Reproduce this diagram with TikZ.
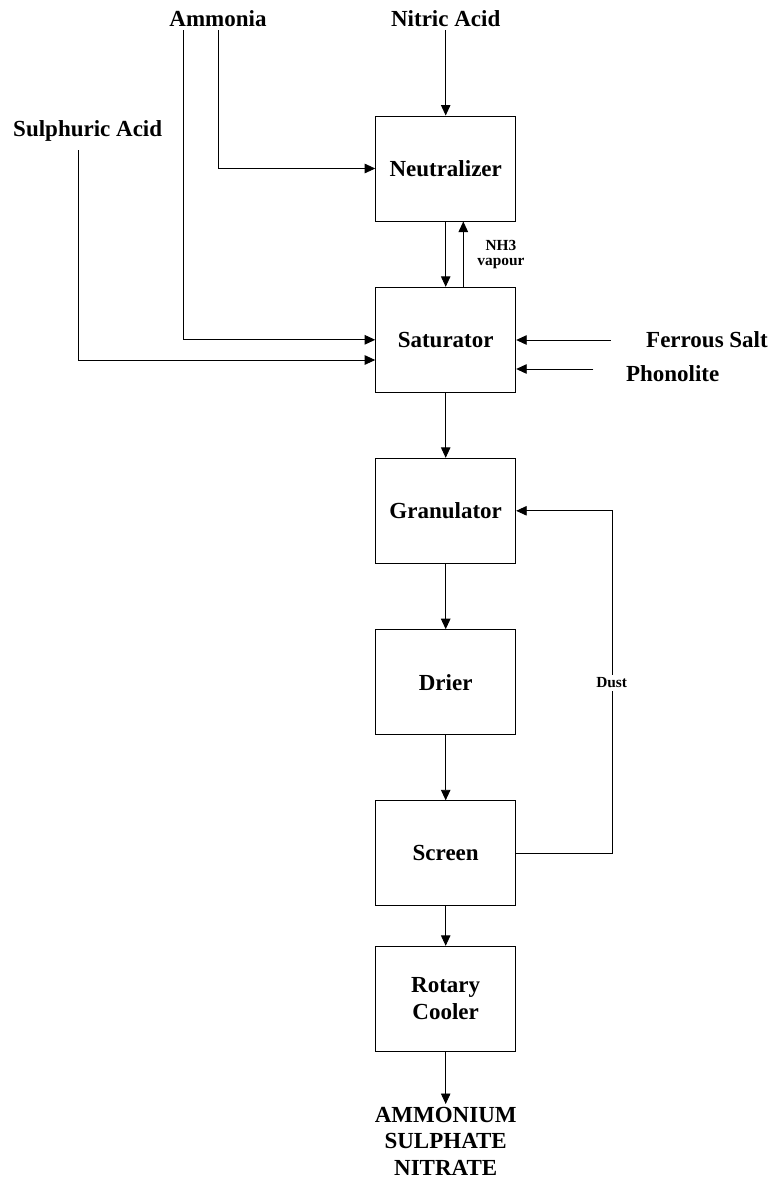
\documentclass[tikz,border=0pt]{standalone}
\usepackage{fontspec}
\setmainfont{Liberation Serif}
\usetikzlibrary{arrows.meta,calc}
\begin{document}
\begin{tikzpicture}[x=1pt,y=-1pt,
  unitbox/.style={draw, line width=1pt, minimum width=140pt, minimum height=105pt, inner sep=0pt,
    font=\fontsize{23}{26.5}\selectfont\bfseries, align=center},
  biglabel/.style={font=\fontsize{23}{26.5}\selectfont\bfseries, inner sep=3pt},
  smalllabel/.style={font=\fontsize{15.4}{15.5}\selectfont\bfseries, align=center, inner sep=1.5pt},
  arr/.style={line width=0.9pt, -{Triangle[length=10.5pt,width=9.5pt]}},
  ln/.style={line width=0.9pt}]
\useasboundingbox (0,0) rectangle (771,1184);

% process boxes
\node[unitbox] (neut)   at (445.7,168.5) {Neutralizer};
\node[unitbox] (sat)    at (445.7,339.8) {Saturator};
\node[unitbox] (gran)   at (445.7,510.8) {Granulator};
\node[unitbox] (drier)  at (445.7,682.2) {Drier};
\node[unitbox] (screen) at (445.7,853.3) {Screen};
\node[unitbox] (cooler) at (445.7,998.8) {Rotary\\Cooler};

% feed labels
\node[biglabel, anchor=base] (ammonia) at (218,26) {Ammonia};
\node[biglabel, anchor=base] (nitric)  at (445.7,26) {Nitric Acid};
\node[biglabel, anchor=base] (sulph)   at (87.7,136.7) {Sulphuric Acid};
\node[biglabel, anchor=base] (ferrous) at (707,347.7) {Ferrous Salt};
\node[biglabel, anchor=base] (phono)   at (672.7,381.7) {Phonolite};
\node[biglabel, anchor=north, align=center] (prod) at (445.7,1104) {AMMONIUM\\SULPHATE\\NITRATE};

% free line ends
\coordinate (am1) at (218.3,30);
\coordinate (am2) at (183,30);
\coordinate (su1) at (78.3,150);
\coordinate (fe1) at (610.7,340);
\coordinate (ph1) at (593.3,369);
\coordinate (ni1) at (445.7,30);

% feeds
\draw[arr] (ni1) -- (neut.north);
\draw[arr] (am1) |- (neut.west);
\draw[arr] (am2) |- (sat.west);
\draw[arr] (su1) |- ($(sat.west)+(0,20.2)$);
\draw[arr] (fe1) -- (fe1 -| sat.east);
\draw[arr] (ph1) -- (ph1 -| sat.east);

% main flow
\draw[arr] (neut.south) -- (sat.north);
\draw[arr] ($(sat.north)+(17.6,0)$) -- ($(neut.south)+(17.6,0)$);
\node[smalllabel] (nh3) at (501,254.5) {NH3\\vapour};
\draw[arr] (sat.south) -- (gran.north);
\draw[arr] (gran.south) -- (drier.north);
\draw[arr] (drier.south) -- (screen.north);
\draw[arr] (screen.south) -- (cooler.north);
\draw[arr] (cooler.south) -- (prod.north);

% dust recycle
\draw[arr] (screen.east) -- ++(96,0) |- (gran.east);
\node[smalllabel, fill=white, inner sep=3pt] (dust) at (611.7,682.7) {Dust};
\end{tikzpicture}
\end{document}
